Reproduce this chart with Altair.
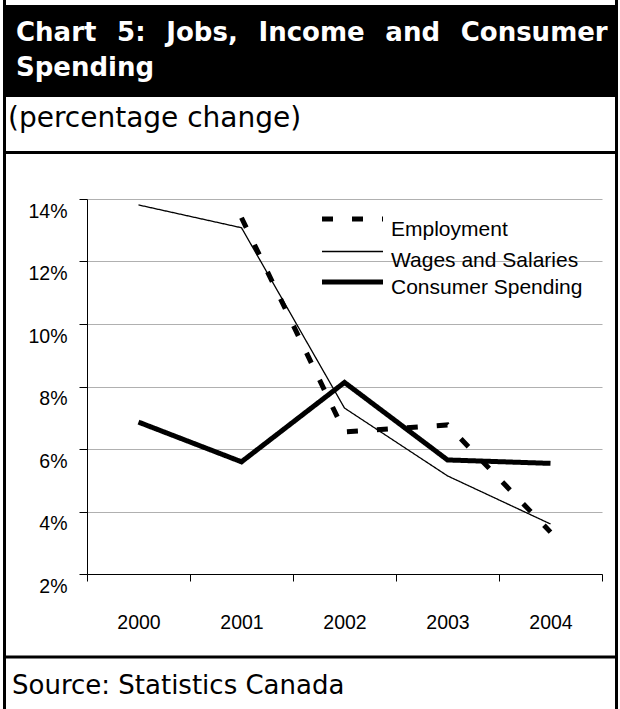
import altair as alt
import pandas as pd

# ---------------- data ----------------
YEARS = ["2000", "2001", "2002", "2003", "2004"]
SERIES = ["Employment", "Wages and Salaries", "Consumer Spending"]
EMPLOYMENT = [None, 13.4, 6.55, 6.77, 3.34]
WAGES = [13.81, 13.08, 7.31, 5.14, 3.6]
CONSUMER = [6.86, 5.59, 8.13, 5.65, 5.54]
Y_TICKS = [2, 4, 6, 8, 10, 12, 14]

TITLE_WORDS = ["Chart", "5:", "Jobs,", "Income", "and", "Consumer"]
TITLE_LINE2 = "Spending"
SUBTITLE = "(percentage change)"
SOURCE = "Source: Statistics Canada"

# ---------------- layout / styles ----------------
PAGE_W, PAGE_H = 620, 709
OX, OY = 87, 199          # plot origin on the page
PW, PH = 515, 375         # plot area size
STYLE = {
    "Employment": dict(strokeWidth=5, strokeDash=[11, 19]),
    "Wages and Salaries": dict(strokeWidth=1.3, strokeDash=[1, 0]),
    "Consumer Spending": dict(strokeWidth=5, strokeDash=[1, 0]),
}
TITLE_FONT = "DejaVu Sans"
CHART_FONT = "Liberation Sans"
GAP = "\u00a0\u00a0\u200a"   # justified-looking word gap

rows = []
for s, vals in zip(SERIES, [EMPLOYMENT, WAGES, CONSUMER]):
    for yr, v in zip(YEARS, vals):
        if v is not None:
            rows.append({"year": yr, "series": s, "value": v})
df = pd.DataFrame(rows)
one = pd.DataFrame({"k": [0]})


def px(x):
    return alt.value(x - OX)


def py(y):
    return alt.value(y - OY)


x_enc = alt.X(
    "year:N", sort=YEARS,
    scale=alt.Scale(type="band", domain=YEARS, paddingInner=0, paddingOuter=0),
    axis=alt.Axis(title=None, labelAngle=0, tickBand="extent", grid=False,
                  domainColor="black", tickColor="black", tickSize=7,
                  labelPadding=32, labelFont=CHART_FONT, labelFontSize=19.5,
                  labelColor="black"),
)
y_enc = alt.Y(
    "value:Q",
    scale=alt.Scale(domain=[2, 14], nice=False, zero=False),
    axis=alt.Axis(title=None, values=Y_TICKS, labelExpr="datum.value + '%'",
                  grid=True, gridColor="#b0b0b0", gridWidth=1.2,
                  domainColor="black", tickColor="black", tickSize=8,
                  labelPadding=12, labelOffset=12, labelFont=CHART_FONT,
                  labelFontSize=19.5, labelColor="black"),
)

layers = []

# data lines
for s in SERIES:
    layers.append(
        alt.Chart(df).transform_filter(alt.datum.series == s)
        .mark_line(color="black", strokeJoin="miter", strokeCap="butt", **STYLE[s])
        .encode(x=x_enc, y=y_enc)
    )

# legend (manual, Excel style)
LEG_SYM_X0, LEG_SYM_X1, LEG_TXT_X = 322, 383, 391
LEG_SYM_Y = [219, 251.5, 282]
LEG_TXT_Y = [236, 267, 294]
for i, s in enumerate(SERIES):
    layers.append(
        alt.Chart(one).mark_rule(color="black", strokeCap="butt", **STYLE[s]).encode(
            x=px(LEG_SYM_X0), x2=px(LEG_SYM_X1), y=py(LEG_SYM_Y[i]))
    )
    layers.append(
        alt.Chart(one).mark_text(text=s, font=CHART_FONT, fontSize=21, color="black",
                                 align="left", baseline="alphabetic").encode(
            x=px(LEG_TXT_X), y=py(LEG_TXT_Y[i]))
    )

# frame & header band
layers.append(alt.Chart(one).mark_rect(color="black").encode(
    x=px(3), x2=px(618), y=py(5), y2=py(97)))
for xx in [4.5, 616.5]:
    layers.append(alt.Chart(one).mark_rule(color="black", strokeWidth=3).encode(
        x=px(xx), y=py(0), y2=py(PAGE_H + 5)))
for yy in [152.5, 657]:
    layers.append(alt.Chart(one).mark_rule(color="black", strokeWidth=3).encode(
        x=px(3), x2=px(618), y=py(yy)))

title_line1 = GAP.join(TITLE_WORDS)
layers.append(alt.Chart(one).mark_text(
    text=title_line1, font=TITLE_FONT, fontSize=26, fontWeight="bold", color="white",
    align="left", baseline="alphabetic").encode(x=px(16), y=py(41)))
layers.append(alt.Chart(one).mark_text(
    text=TITLE_LINE2, font=TITLE_FONT, fontSize=26, fontWeight="bold", color="white",
    align="left", baseline="alphabetic").encode(x=px(16), y=py(76)))
layers.append(alt.Chart(one).mark_text(
    text=SUBTITLE, font=TITLE_FONT, fontSize=28, color="black",
    align="left", baseline="alphabetic").encode(x=px(8), y=py(127)))
layers.append(alt.Chart(one).mark_text(
    text=SOURCE, font=TITLE_FONT, fontSize=26, color="black",
    align="left", baseline="alphabetic").encode(x=px(12), y=py(694)))

chart = alt.layer(*layers).properties(
    width=PW, height=PH,
    autosize=alt.AutoSizeParams(type="none"),
    padding={"left": OX, "top": OY, "right": PAGE_W - OX - PW, "bottom": PAGE_H - OY - PH},
    background="white",
).configure_view(stroke=None)

chart.save("out.html", embed_options={"renderer": "svg", "actions": False})
